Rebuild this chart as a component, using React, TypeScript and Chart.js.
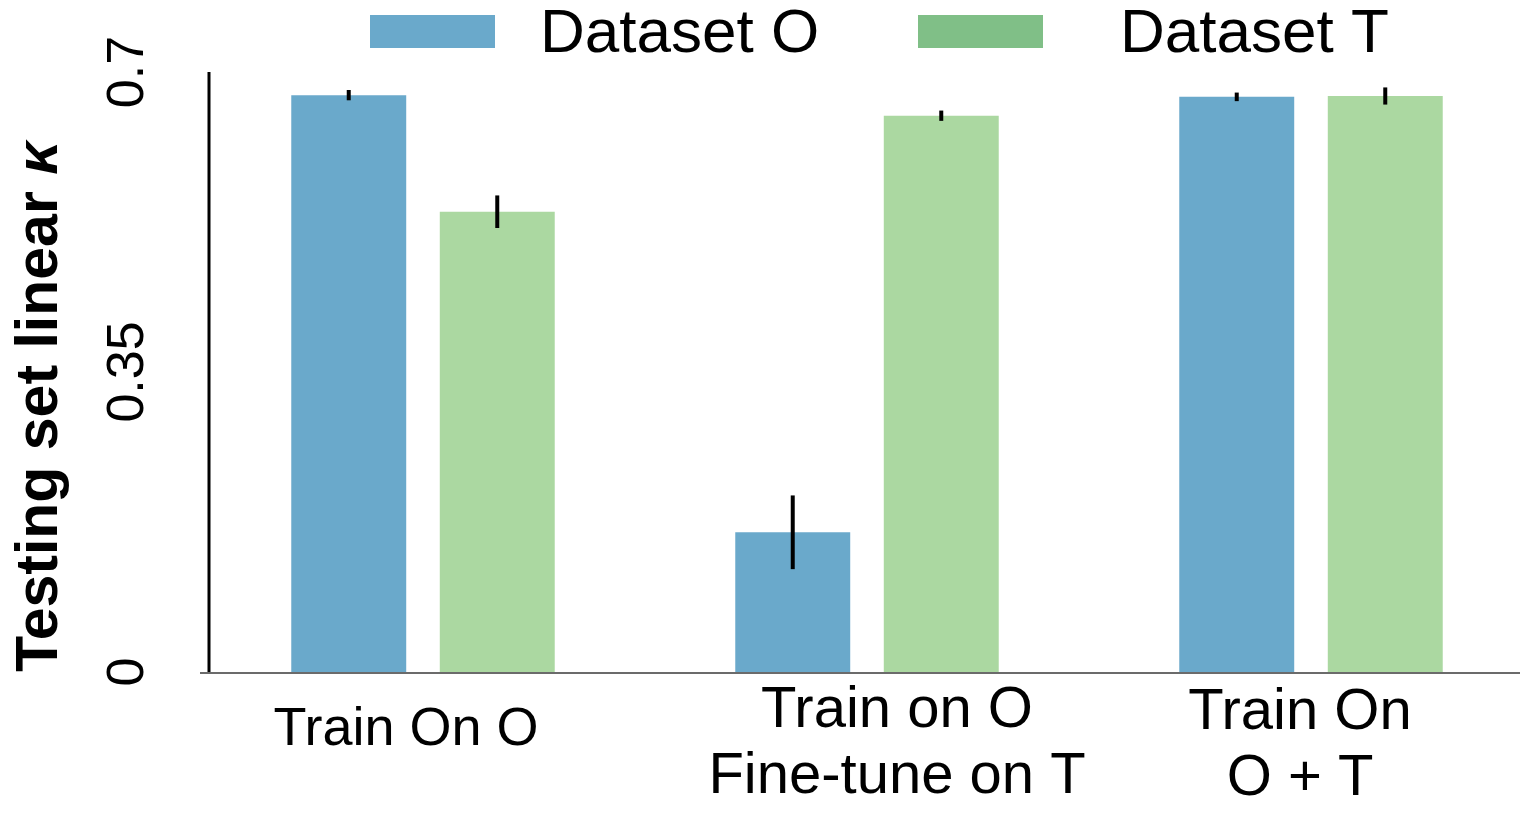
import { useEffect, useRef } from "react";
import { Chart, registerables } from "chart.js";

Chart.register(...registerables);

// ---- data ----
const categories: string[][] = [["Train On O"], ["Train on O", "Fine-tune on T"], ["Train On", "O + T"]];
const seriesNames = ["Dataset O", "Dataset T"];
const datasetO = [0.673, 0.163, 0.671];
const datasetOErr = [0.006, 0.043, 0.005];
const datasetT = [0.537, 0.649, 0.672];
const datasetTErr = [0.019, 0.006, 0.01];
const yTicks = [0, 0.35, 0.7];
const yTitle = "Testing set linear ";
const yTitleSymbol = "κ";

// ---- styles ----
const BAR_COLORS = ["#6aa9cb", "#abd8a1"];
const LEGEND_COLORS = ["#6aa9cb", "#80bf87"];
const FONT = "'Liberation Sans', Arial, sans-serif";
// label nudges relative to category pixel: [dx, first baseline dy below axis, font size]
const LABEL_NUDGE = [
  [-17, 73, 54],
  [30, 55, 58],
  [-11, 57, 58],
];
const LABEL_LINE = 66;

const decor = {
  id: "decor",
  afterDatasetsDraw(chart: any) {
    const ctx = chart.ctx;
    const ys = chart.scales.y;
    const xs = chart.scales.x;
    const area = chart.chartArea;
    const errs = [datasetOErr, datasetTErr];
    ctx.save();
    // error bars
    ctx.strokeStyle = "#000";
    ctx.lineWidth = 4;
    chart.data.datasets.forEach((ds: any, di: number) => {
      const meta = chart.getDatasetMeta(di);
      meta.data.forEach((bar: any, i: number) => {
        const v = ds.data[i];
        const e = errs[di][i];
        ctx.beginPath();
        ctx.moveTo(bar.x, ys.getPixelForValue(v - e));
        ctx.lineTo(bar.x, ys.getPixelForValue(v + e));
        ctx.stroke();
      });
    });
    // axis lines
    ctx.strokeStyle = "#6b6b6b";
    ctx.lineWidth = 2;
    ctx.beginPath();
    ctx.moveTo(area.left - 1, area.bottom + 1);
    ctx.lineTo(area.right - 13, area.bottom + 1);
    ctx.stroke();
    ctx.strokeStyle = "#000";
    ctx.lineWidth = 3;
    ctx.beginPath();
    ctx.moveTo(area.left + 8, area.top);
    ctx.lineTo(area.left + 8, area.bottom);
    ctx.stroke();
    // x category labels
    ctx.fillStyle = "#000";
    ctx.textAlign = "center";
    ctx.textBaseline = "alphabetic";
    categories.forEach((lines, i) => {
      const cx = xs.getPixelForValue(i) + LABEL_NUDGE[i][0];
      ctx.font = `${LABEL_NUDGE[i][2]}px ${FONT}`;
      lines.forEach((t, li) => {
        ctx.fillText(t, cx, area.bottom + LABEL_NUDGE[i][1] + li * LABEL_LINE);
      });
    });
    // legend
    ctx.font = `62px ${FONT}`;
    ctx.textAlign = "left";
    const boxX = [370, 918];
    const textX = [540, 1120];
    seriesNames.forEach((name, i) => {
      ctx.fillStyle = LEGEND_COLORS[i];
      ctx.fillRect(boxX[i], 15, 125, 33);
      ctx.fillStyle = "#000";
      ctx.fillText(name, textX[i], 52);
    });
    // y-axis title (bold text + bold italic kappa), rotated
    ctx.save();
    ctx.translate(57, area.bottom);
    ctx.rotate(-Math.PI / 2);
    ctx.textAlign = "left";
    ctx.textBaseline = "alphabetic";
    ctx.font = `bold 59px ${FONT}`;
    ctx.fillText(yTitle, 0, 0);
    const w = ctx.measureText(yTitle).width;
    ctx.font = `italic bold 59px ${FONT}`;
    ctx.fillText(yTitleSymbol, w, 0);
    ctx.restore();
    ctx.restore();
  },
};

export default function App() {
  const ref = useRef<HTMLCanvasElement | null>(null);
  useEffect(() => {
    if (!ref.current) return;
    const chart = new Chart(ref.current, {
      type: "bar",
      data: {
        labels: categories.map((c) => c.join(" ")),
        datasets: [
          {
            label: seriesNames[0],
            data: datasetO,
            backgroundColor: BAR_COLORS[0],
            borderWidth: 0,
            categoryPercentage: 0.669,
            barPercentage: 0.774,
          },
          {
            label: seriesNames[1],
            data: datasetT,
            backgroundColor: BAR_COLORS[1],
            borderWidth: 0,
            categoryPercentage: 0.669,
            barPercentage: 0.774,
          },
        ],
      },
      options: {
        animation: false,
        responsive: true,
        maintainAspectRatio: false,
        layout: { padding: { top: 72, right: 2, left: 0, bottom: 0 } },
        plugins: {
          legend: { display: false },
          tooltip: { enabled: false },
        },
        scales: {
          x: {
            grid: { display: false },
            border: { display: false },
            ticks: { display: false },
            afterFit: (s: any) => {
              s.height = 141;
            },
          },
          y: {
            min: 0,
            max: 0.7,
            afterBuildTicks: (s: any) => {
              s.ticks = yTicks.map((v) => ({ value: v }));
            },
            grid: { display: false, drawTicks: false },
            border: { display: false },
            ticks: {
              color: "#000",
              font: { family: FONT, size: 52 },
              minRotation: 90,
              maxRotation: 90,
              crossAlign: "center",
              padding: 22,
              callback: (v: any) => String(v),
            },
            afterFit: (s: any) => {
              s.width = 201;
            },
          },
        },
      },
      plugins: [decor],
    });
    return () => chart.destroy();
  }, []);
  return (
    <div style={{ position: "absolute", left: 0, top: 0, width: 1535, height: 813, background: "#fff" }}>
      <canvas ref={ref} />
    </div>
  );
}
